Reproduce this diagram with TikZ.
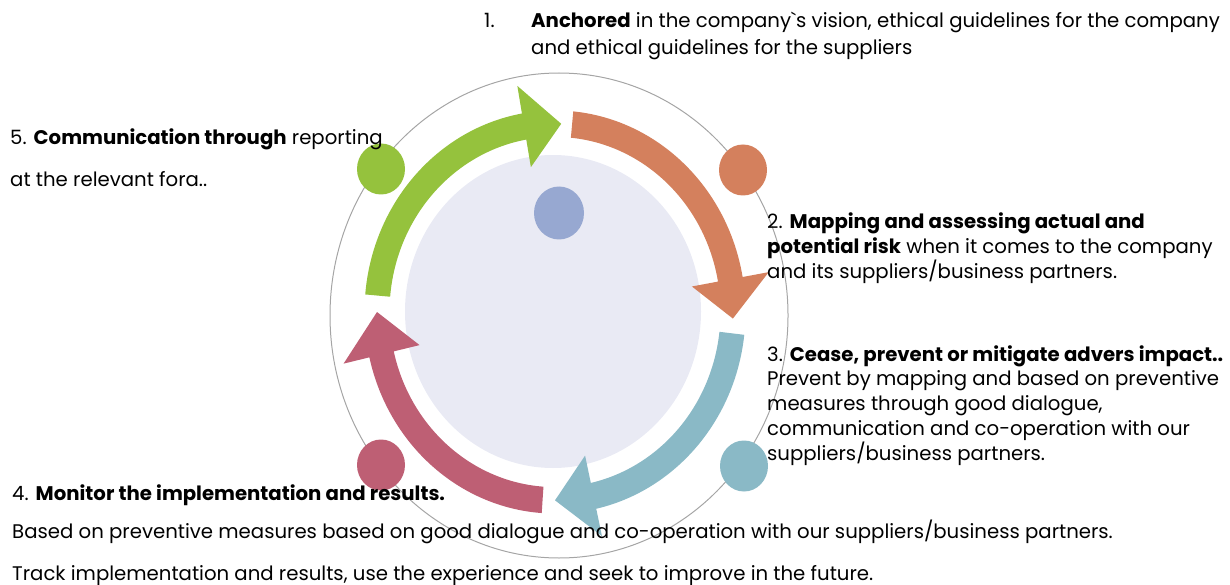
\documentclass[tikz,border=0pt]{standalone}
\usepackage{fontspec}
\setmainfont{Poppins}
% plain copy of the face without TeX quote mapping, for the grave sign
\newfontfamily\plainface{Poppins}[Ligatures=ResetAll]
\definecolor{cgreen}{HTML}{95C23D}
\definecolor{corange}{HTML}{D4805D}
\definecolor{cteal}{HTML}{8AB9C6}
\definecolor{cred}{HTML}{BE5F74}
\definecolor{cblue}{HTML}{97A8D1}
\definecolor{cinner}{HTML}{E9EAF4}
\definecolor{cring}{HTML}{A5A5A5}
\begin{document}
\begin{tikzpicture}[x=1pt,y=-1pt,
  txt/.style={anchor=base west, inner sep=0pt, font=\fontsize{19.7}{25}\selectfont, text=black}]
\useasboundingbox (0,0) rectangle (1230,585);

% outer ring and inner disc
\draw[cring, line width=1pt] (559,315.5) ellipse [x radius=229, y radius=242.5];
\fill[cinner] (553,311.5) ellipse [x radius=148, y radius=156.5];

% four curved arrows of the cycle
\begin{scope}[shift={(555,312)}, yscale=-1.058]
  \def\rr{178}\def\ww{12.5}\def\hh{39}
  \foreach \col/\aa/\bb/\tt in {cgreen/175/100/88, corange/84.5/10/-2, cteal/-6.5/-77.5/-90, cred/-94/-167/-180}{
    \fill[\col] (\aa:\rr-\ww) arc[start angle=\aa, end angle=\bb, radius=\rr-\ww]
      -- (\bb:\rr-\hh) -- (\tt:\rr) -- (\bb:\rr+\hh) -- (\bb:\rr+\ww)
      arc[start angle=\bb, end angle=\aa, radius=\rr+\ww] -- cycle;
  }
\end{scope}

% dots
\fill[cgreen] (381,169) ellipse [x radius=24, y radius=25.5];
\fill[corange] (743,170) ellipse [x radius=24, y radius=25.5];
\fill[cteal] (744,466) ellipse [x radius=24, y radius=25.5];
\fill[cred] (381,465) ellipse [x radius=24, y radius=25.5];
\fill[cblue] (559,213) ellipse [x radius=25, y radius=26.5];

% step 1
\node[txt] (n1) at (484,27.3) {1.};
\node[txt] (t1a) at (531,27.3) {\textbf{Anchored} in the company{\plainface`}s vision, ethical guidelines for the company};
\node[txt] (t1b) at (531,55) {and ethical guidelines for the suppliers};

% step 2
\node[txt] (t2a) at (767,228.3) {2. \textbf{Mapping and assessing actual and}};
\node[txt] (t2b) at (767,253.3) {\textbf{potential risk} when it comes to the company};
\node[txt] (t2c) at (767,278.3) {and its suppliers/business partners.};

% step 3
\node[txt] (t3a) at (767,361) {3. \textbf{Cease, prevent or mitigate advers impact..}};
\node[txt] (t3b) at (767,385) {Prevent by mapping and based on preventive};
\node[txt] (t3c) at (767,410) {measures through good dialogue,};
\node[txt] (t3d) at (767,435) {communication and co-operation with our};
\node[txt] (t3e) at (767,460) {suppliers/business partners.};

% step 4
\node[txt] (t4a) at (12,500.7) {4. \textbf{Monitor the implementation and results.}};
\node[txt] (t4b) at (12,538) {Based on preventive measures based on good dialogue and co-operation with our suppliers/business partners.};
\node[txt] (t4c) at (12,580) {Track implementation and results, use the experience and seek to improve in the future.};

% step 5
\node[txt] (t5a) at (10,145) {5. \textbf{Communication through} reporting};
\node[txt] (t5b) at (10,186.7) {at the relevant fora..};
\end{tikzpicture}
\end{document}
